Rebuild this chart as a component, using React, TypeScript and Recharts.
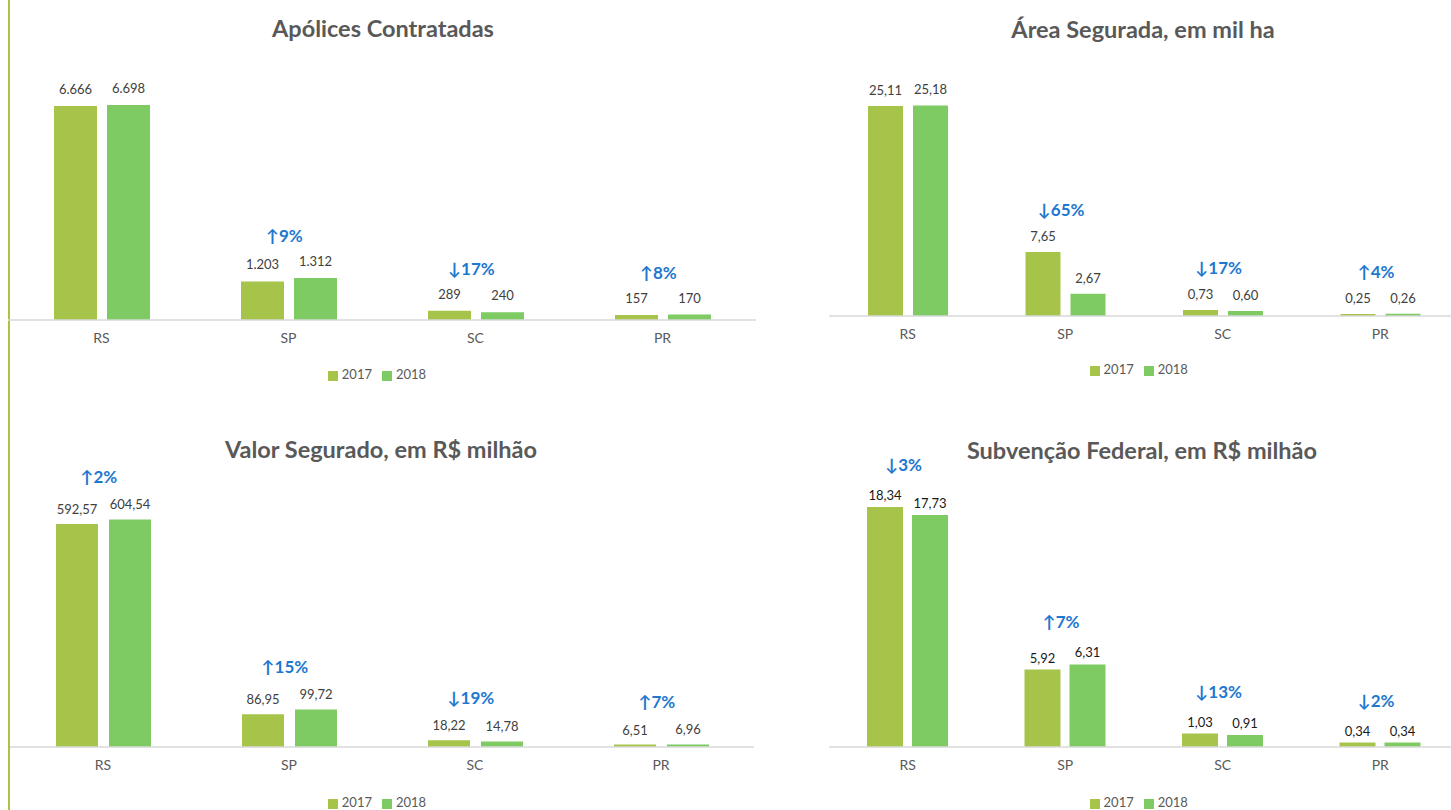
import React from 'react';
import { ComposedChart, Bar, Line, XAxis, YAxis, Legend, LabelList } from 'recharts';

// ---------- data ----------
const categories = ['RS', 'SP', 'SC', 'PR'];
const seriesNames = ['2017', '2018'];

const apolices2017 = [6666, 1203, 289, 157];
const apolices2018 = [6698, 1312, 240, 170];
const apolicesChange = ['', '↑9%', '↓17%', '↑8%'];

const area2017 = [25.11, 7.65, 0.73, 0.25];
const area2018 = [25.18, 2.67, 0.6, 0.26];
const areaChange = ['', '↓65%', '↓17%', '↑4%'];

const valor2017 = [592.57, 86.95, 18.22, 6.51];
const valor2018 = [604.54, 99.72, 14.78, 6.96];
const valorChange = ['↑2%', '↑15%', '↓19%', '↑7%'];

const subv2017 = [18.34, 5.92, 1.03, 0.34];
const subv2018 = [17.73, 6.31, 0.91, 0.34];
const subvChange = ['↓3%', '↑7%', '↓13%', '↓2%'];

// ---------- helpers ----------
const COLOR_2017 = '#A6C34A';
const COLOR_2018 = '#7DCB62';
const FONT = 'Lato, "Open Sans", "DejaVu Sans", sans-serif';

const fmtInt = (v: number) => String(Math.round(v)).replace(/\B(?=(\d{3})+(?!\d))/g, '.');
const fmtDec = (v: number) => Number(v).toFixed(2).replace('.', ',');

const build = (a: number[], b: number[], ch: string[]) =>
  categories.map((c, i) => ({ cat: c, v2017: a[i], v2018: b[i], top: Math.max(a[i], b[i]), change: ch[i] }));

const ChangeLabel = (props: any) => {
  const { value } = props;
  if (!value) return null;
  const x = props.x ?? props.viewBox?.x;
  const y = props.y ?? props.viewBox?.y;
  if (x == null || y == null) return null;
  return (
    <text x={x - 4} y={y - 36} textAnchor="middle" fill="#1E78D0" fontSize={17} fontWeight={700} fontFamily={FONT}>
      {value}
    </text>
  );
};

type ChartProps = {
  title: string;
  data: any[];
  max: number;
  fmt: (v: number) => string;
  left: number;
  top: number;
  width: number;
  plotBottom: number;
  legendCenter: number;
  titleCenterX: number;
  titleCenterY: number;
  barSize: number;
  barGap: number;
  labelOffset: number;
  labelColor: string;
  pxPerUnit: number;
};

function StateChart(p: ChartProps) {
  const plotHeight = p.max * p.pxPerUnit;
  const plotTop = p.plotBottom - plotHeight;
  const legendH = 20;
  const xh = p.legendCenter - legendH / 2 - p.plotBottom;
  const mb = 2;
  const H = p.legendCenter + legendH / 2 - p.top + mb;
  return (
    <>
      <div
        style={{
          position: 'absolute',
          left: p.titleCenterX - 300,
          width: 600,
          top: p.titleCenterY - 15,
          height: 30,
          lineHeight: '30px',
          textAlign: 'center',
          fontFamily: FONT,
          fontWeight: 700,
          fontSize: 23.5,
          color: '#595959',
          whiteSpace: 'nowrap',
        }}
      >
        {p.title}
      </div>
      <div style={{ position: 'absolute', left: p.left, top: p.top }}>
        <ComposedChart
          width={p.width}
          height={H}
          data={p.data}
          margin={{ top: plotTop - p.top, right: 0, bottom: mb, left: 0 }}
          barGap={p.barGap}
          style={{ fontFamily: FONT }}
        >
          <XAxis
            dataKey="cat"
            interval={0}
            tickLine={false}
            axisLine={{ stroke: '#D9D9D9', strokeWidth: 1.5 }}
            tick={{ fill: '#595959', fontSize: 14, fontFamily: FONT }}
            tickMargin={7}
            height={xh}
          />
          <YAxis hide type="number" domain={[0, p.max]} />
          <Legend
            verticalAlign="bottom"
            align="center"
            iconType="square"
            iconSize={10}
            wrapperStyle={{ height: legendH, lineHeight: `${legendH}px`, fontSize: 13, fontFamily: FONT }}
            formatter={(v: any) => <span style={{ color: '#595959' }}>{v}</span>}
          />
          <Bar dataKey="v2017" name={seriesNames[0]} fill={COLOR_2017} barSize={p.barSize} isAnimationActive={false}>
            <LabelList
              dataKey="v2017"
              position="top"
              offset={p.labelOffset}
              formatter={(v: any) => p.fmt(Number(v))}
              fill={p.labelColor}
              fontSize={13}
              fontFamily={FONT}
            />
          </Bar>
          <Bar dataKey="v2018" name={seriesNames[1]} fill={COLOR_2018} barSize={p.barSize} isAnimationActive={false}>
            <LabelList
              dataKey="v2018"
              position="top"
              offset={p.labelOffset}
              formatter={(v: any) => p.fmt(Number(v))}
              fill={p.labelColor}
              fontSize={13}
              fontFamily={FONT}
            />
          </Bar>
          <Line
            dataKey="top"
            stroke="none"
            dot={false}
            activeDot={false}
            legendType="none"
            isAnimationActive={false}
          >
            <LabelList dataKey="change" content={<ChangeLabel />} />
          </Line>
        </ComposedChart>
      </div>
    </>
  );
}

export default function App() {
  return (
    <div
      style={{
        position: 'absolute',
        left: 0,
        top: 0,
        width: 1451,
        height: 810,
        overflow: 'hidden',
        background: '#FFFFFF',
      }}
    >
      <div style={{ position: 'absolute', left: 8, top: 0, width: 2, height: 810, background: '#A8C24A' }} />
      <StateChart
        title="Apólices Contratadas"
        data={build(apolices2017, apolices2018, apolicesChange)}
        max={7000}
        fmt={fmtInt}
        left={8}
        top={0}
        width={748}
        plotBottom={320}
        legendCenter={374}
        titleCenterX={383}
        titleCenterY={28}
        barSize={43}
        barGap={10}
        labelOffset={12}
        labelColor="#404040"
        pxPerUnit={214 / 6666}
      />
      <StateChart
        title="Área Segurada, em mil ha"
        data={build(area2017, area2018, areaChange)}
        max={30}
        fmt={fmtDec}
        left={828.75}
        top={0}
        width={630}
        plotBottom={316}
        legendCenter={369}
        titleCenterX={1143}
        titleCenterY={29}
        barSize={35}
        barGap={10}
        labelOffset={11}
        labelColor="#404040"
        pxPerUnit={210 / 25.11}
      />
      <StateChart
        title="Valor Segurado, em R$ milhão"
        data={build(valor2017, valor2018, valorChange)}
        max={700}
        fmt={fmtDec}
        left={10}
        top={400}
        width={744}
        plotBottom={747}
        legendCenter={802}
        titleCenterX={381}
        titleCenterY={449}
        barSize={42}
        barGap={11}
        labelOffset={10}
        labelColor="#404040"
        pxPerUnit={223 / 592.57}
      />
      <StateChart
        title="Subvenção Federal, em R$ milhão"
        data={build(subv2017, subv2018, subvChange)}
        max={20}
        fmt={fmtDec}
        left={828.75}
        top={400}
        width={630}
        plotBottom={747}
        legendCenter={802}
        titleCenterX={1142}
        titleCenterY={450}
        barSize={36}
        barGap={9}
        labelOffset={7}
        labelColor="#1A1A1A"
        pxPerUnit={240 / 18.34}
      />
    </div>
  );
}
